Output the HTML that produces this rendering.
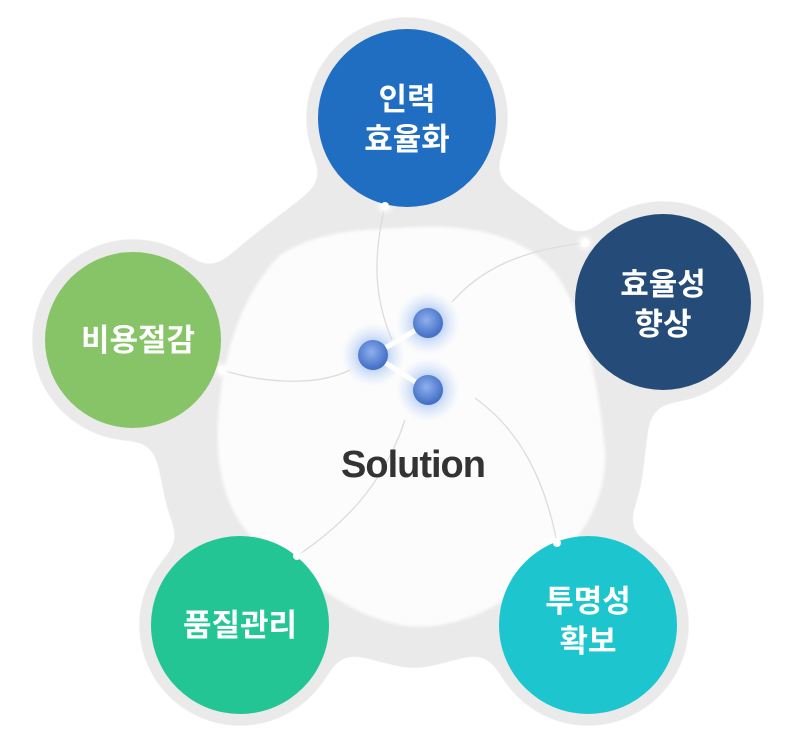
<!DOCTYPE html>
<html><head><meta charset="utf-8"><style>
html,body{margin:0;padding:0;background:#fff;width:800px;height:752px;overflow:hidden}
svg{display:block}
text{font-family:"Liberation Sans","Noto Sans CJK KR",sans-serif;font-weight:bold}
</style></head><body>
<svg width="800" height="752" viewBox="0 0 800 752" xmlns="http://www.w3.org/2000/svg">
<defs>
<radialGradient id="ball" cx="45%" cy="40%" r="60%"><stop offset="0" stop-color="#8fb0ee"/><stop offset="1" stop-color="#3f6cc4"/></radialGradient>
<radialGradient id="glow"><stop offset="0.4" stop-color="#a9c4f2" stop-opacity="0.8"/><stop offset="1" stop-color="#cfe0fa" stop-opacity="0"/></radialGradient>
<filter id="bl" color-interpolation-filters="sRGB"><feGaussianBlur stdDeviation="3"/></filter>
<filter id="bl2" color-interpolation-filters="sRGB"><feGaussianBlur stdDeviation="1.5"/></filter>
<filter id="goo" x="-20%" y="-20%" width="140%" height="140%" color-interpolation-filters="sRGB">
<feGaussianBlur in="SourceGraphic" stdDeviation="14"/>
<feColorMatrix values="0 0 0 0 0.918  0 0 0 0 0.918  0 0 0 0 0.918  0 0 0 30 -14"/>
</filter>
</defs>
<g fill="#000" filter="url(#goo)">
<circle cx="407" cy="118" r="101"/>
<circle cx="663" cy="302" r="101"/>
<circle cx="133" cy="340" r="101"/>
<circle cx="240" cy="625" r="101"/>
<circle cx="588" cy="625" r="101"/>
<path d="M407 118 L538 208 L663 302 L640 492 L588 625 L414 670 L240 625 L170 520 L133 340 L248 240Z"/>
</g>
<path fill="#fcfcfc" filter="url(#bl2)" d="M400 228 C470 222 530 235 560 280 C590 330 600 400 605 450 C608 520 560 560 520 590 C470 625 430 630 400 625 C350 615 310 580 280 560 C230 530 215 480 218 420 C222 350 245 290 280 255 C320 230 360 230 400 228Z"/>
<g fill="none" stroke="#dcdcdc" stroke-width="1.3">
<path d="M385 206 C372 260 375 300 392 340"/>
<path d="M585 243 C520 250 480 270 452 302"/>
<path d="M222 370 C270 385 320 385 350 370"/>
<path d="M297 556 C350 520 385 480 405 420"/>
<path d="M557 543 C545 480 520 430 475 398"/>
</g>
<g fill="#fff" filter="url(#bl)">
<circle cx="385" cy="206" r="6"/><circle cx="585" cy="243" r="6"/><circle cx="222" cy="370" r="6"/><circle cx="297" cy="556" r="6"/><circle cx="557" cy="543" r="6"/>
</g>
<circle cx="407" cy="118" r="89" fill="#1f6ec2"/>
<circle cx="663" cy="302" r="88" fill="#254c78"/>
<circle cx="133" cy="340" r="88" fill="#86c467"/>
<circle cx="240" cy="625" r="89" fill="#22c593"/>
<circle cx="588" cy="625" r="89" fill="#1dc6cf"/>
<g fill="#fff">
<circle cx="385" cy="206" r="4"/><circle cx="585" cy="243" r="4"/><circle cx="222" cy="370" r="4"/><circle cx="297" cy="556" r="4"/><circle cx="557" cy="543" r="4"/>
</g>
<circle cx="373" cy="355" r="32" fill="url(#glow)"/>
<circle cx="428" cy="323" r="32" fill="url(#glow)"/>
<circle cx="428" cy="390" r="32" fill="url(#glow)"/>
<path d="M373 355 L428 323 M373 355 L428 390" stroke="#fff" stroke-width="5"/>
<circle cx="373" cy="355" r="15" fill="url(#ball)"/>
<circle cx="428" cy="323" r="15" fill="url(#ball)"/>
<circle cx="428" cy="390" r="15" fill="url(#ball)"/>
<text x="413" y="477" font-size="38" fill="#333" text-anchor="middle" letter-spacing="-1">Solution</text>
<g fill="#fff" font-size="31" text-anchor="middle">
<text x="407" y="110">인력</text><text x="407" y="150">효율화</text>
<text x="663" y="295">효율성</text><text x="663" y="335">향상</text>
<text x="138" y="351">비용절감</text>
<text x="240" y="636">품질관리</text>
<text x="588" y="612">투명성</text><text x="588" y="652">확보</text>
</g>
</svg>
</body></html>
